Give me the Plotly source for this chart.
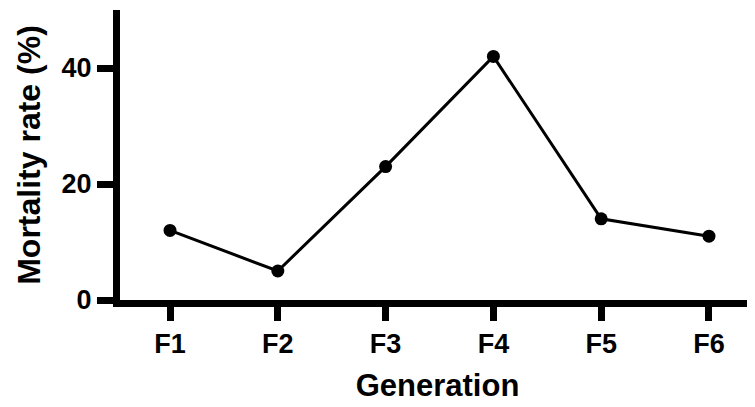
import plotly.graph_objects as go

generations = ["F1", "F2", "F3", "F4", "F5", "F6"]
mortality = [12, 5, 23, 42, 14, 11]
y_ticks = [0, 20, 40]

FONT = "Liberation Sans, Arial, sans-serif"

fig = go.Figure()
fig.add_trace(go.Scatter(
    x=generations, y=mortality, mode="lines+markers",
    line=dict(color="black", width=3),
    marker=dict(color="black", size=13),
    cliponaxis=False,
))

fig.update_layout(
    width=755, height=407,
    margin=dict(l=112, r=8, t=2, b=115),
    plot_bgcolor="white", paper_bgcolor="white",
    showlegend=False,
    font=dict(family=FONT, color="black", size=27, weight="bold"),
)
fig.update_xaxes(
    type="category", range=[-0.464, 5.427],
    showline=True, linecolor="black", linewidth=7,
    ticks="outside", ticklen=14, tickwidth=7, tickcolor="black",
    showgrid=False, zeroline=False,
    tickfont=dict(size=27, family=FONT, weight="bold"),
    title=dict(text="Generation", font=dict(size=31, family=FONT, weight="bold"), standoff=18),
)
fig.update_yaxes(
    range=[0, 50], tickvals=y_ticks,
    showline=True, linecolor="black", linewidth=7,
    ticks="outside", ticklen=16, tickwidth=7, tickcolor="black",
    showgrid=False, zeroline=False,
    tickfont=dict(size=27, family=FONT, weight="bold"),
    title=dict(text="Mortality rate (%)", font=dict(size=32, family=FONT, weight="bold"), standoff=14),
)

fig.write_html("out.html")
